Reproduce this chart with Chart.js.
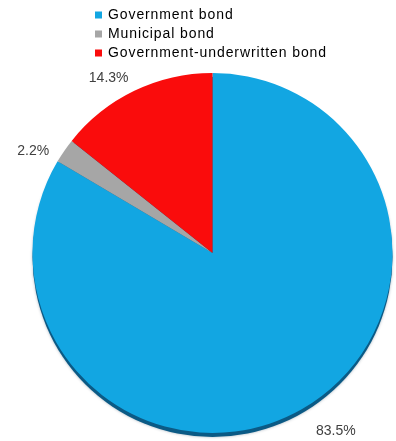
<!DOCTYPE html>
<html>
<head>
<meta charset="utf-8">
<script src="https://cdn.jsdelivr.net/npm/chart.js@4.4.1/dist/chart.umd.min.js"></script>
<style>
  html, body { margin: 0; padding: 0; background: #fff; }
  #wrap { width: 396px; height: 441px; position: relative; }
</style>
</head>
<body>
<div id="wrap"><canvas id="pie"></canvas></div>
<script>
// Chart data
const categories = ['Government bond', 'Municipal bond', 'Government-underwritten bond'];
const shares = [83.5, 2.2, 14.3];
const shareLabels = ['83.5%', '2.2%', '14.3%'];
const sliceColors = ['#12a6e2', '#a6a6a6', '#fa0c0c'];

const FONT = '"Liberation Sans", Arial, sans-serif';

// Soft dark edge under the pie
const pieShadow = {
  id: 'pieShadow',
  beforeDatasetsDraw(chart) {
    const arc = chart.getDatasetMeta(0).data[0];
    if (!arc) return;
    const ctx = chart.ctx;
    ctx.save();
    ctx.fillStyle = '#0b5a85';
    ctx.shadowColor = 'rgba(0, 40, 70, 0.35)';
    ctx.shadowBlur = 3;
    ctx.beginPath();
    ctx.arc(arc.x, arc.y + 4, arc.outerRadius, 0, Math.PI * 2);
    ctx.fill();
    ctx.restore();
  }
};

// Percent labels just outside each slice
const outsideLabels = {
  id: 'outsideLabels',
  afterDatasetsDraw(chart) {
    const ctx = chart.ctx;
    const meta = chart.getDatasetMeta(0);
    ctx.save();
    ctx.font = '14px ' + FONT;
    ctx.fillStyle = '#404040';
    ctx.textAlign = 'center';
    ctx.textBaseline = 'middle';
    meta.data.forEach((arc, i) => {
      const mid = (arc.startAngle + arc.endAngle) / 2 - 5 * Math.PI / 180;
      const dist = arc.outerRadius + 30 + 8 * Math.sin(mid); // a bit further out below
      const x = arc.x + Math.cos(mid) * dist;
      const y = arc.y + Math.sin(mid) * dist;
      ctx.fillText(shareLabels[i], x, y);
    });
    ctx.restore();
  }
};

// Vertical legend at the top
const topLegend = {
  id: 'topLegend',
  afterDraw(chart) {
    const ctx = chart.ctx;
    ctx.save();
    ctx.font = '14px ' + FONT;
    ctx.letterSpacing = '0.9px';
    ctx.textBaseline = 'middle';
    ctx.textAlign = 'left';
    categories.forEach((name, i) => {
      const y = 15 + i * 19;
      ctx.fillStyle = sliceColors[i];
      ctx.fillRect(95, y - 3.5, 7, 7);
      ctx.fillStyle = '#000';
      ctx.fillText(name, 108, y);
    });
    ctx.restore();
  }
};

const ctx = document.getElementById('pie').getContext('2d');
new Chart(ctx, {
  type: 'pie',
  data: {
    labels: categories,
    datasets: [
      {
        data: shares,
        backgroundColor: sliceColors,
        borderWidth: 0,
      },
    ],
  },
  options: {
    responsive: true,
    maintainAspectRatio: false,
    animation: false,
    layout: {
      padding: { top: 73, bottom: 8, left: 32, right: 3 },
    },
    plugins: {
      legend: { display: false },
      tooltip: { enabled: false },
    },
  },
  plugins: [pieShadow, outsideLabels, topLegend],
});
</script>
</body>
</html>
